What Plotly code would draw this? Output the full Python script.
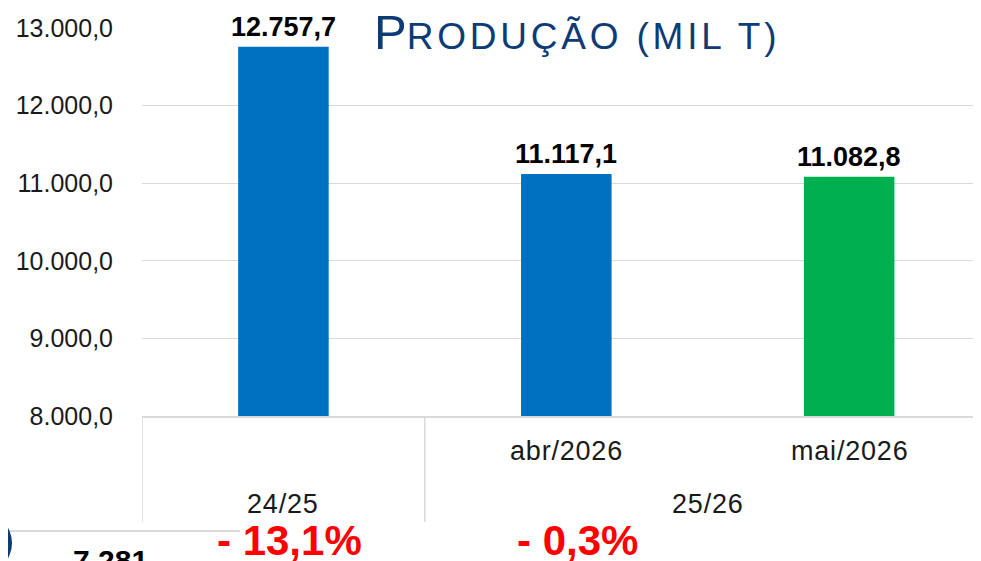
import plotly.graph_objects as go

# --- dados ---
SAFRA = ["24/25", "25/26"]
MESES = ["", "abr/2026", "mai/2026"]
PRODUCAO = [12757.7, 11117.1, 11082.8]
CORES = ["#0070C0", "#0070C0", "#00B050"]
RODAPE_VALOR = "7.281"

FONT = "Liberation Sans, Arial, sans-serif"
AZUL_TITULO = "#0D3B75"
CINZA = "#D9D9D9"
TXT = "#1a1a1a"
OFF = 8  # margem padrão do <body>
W, H = 981 - OFF, 561 - OFF
ML, MT, MB = 142 - OFF, 28 - OFF, 561 - 416
PH = H - MT - MB


def br(v, casas=1):
    s = f"{v:,.{casas}f}"
    return s.replace(",", "X").replace(".", ",").replace("X", ".")


def py(pix):
    # pixel vertical da tela -> coordenada paper
    return (416 - pix) / PH


def px(pix):
    return (pix - 142) / (W - ML)


x = list(range(len(PRODUCAO)))

fig = go.Figure()
fig.add_trace(go.Bar(x=x, y=PRODUCAO, width=0.32, marker_color=CORES,
                     marker_line_width=0, hoverinfo="skip", showlegend=False))

ann = []
# rótulos de dados
for i, v in enumerate(PRODUCAO):
    ann.append(dict(x=i, y=v, xref="x", yref="y", text=f"<b>{br(v)}</b>", showarrow=False,
                    xanchor="center", yanchor="bottom", yshift=3,
                    font=dict(size=27, color="#000000")))

cat = '<span style="letter-spacing:0.8px">%s</span>'
# eixo de categorias em dois níveis
for i, m in enumerate(MESES):
    if m:
        ann.append(dict(x=i, y=py(451), xref="x", yref="paper", text=cat % m, showarrow=False,
                        xanchor="center", yanchor="middle", font=dict(size=27, color=TXT)))
ann.append(dict(x=0, y=py(504), xref="x", yref="paper", text=cat % SAFRA[0], showarrow=False,
                xanchor="center", yanchor="middle", font=dict(size=27, color=TXT)))
ann.append(dict(x=1.5, y=py(504), xref="x", yref="paper", text=cat % SAFRA[1], showarrow=False,
                xanchor="center", yanchor="middle", font=dict(size=27, color=TXT)))

# variações
var_safra = (PRODUCAO[2] / PRODUCAO[0] - 1) * 100
var_mes = (PRODUCAO[2] / PRODUCAO[1] - 1) * 100
for xx, v in [(0.023, var_safra), (1.04, var_mes)]:
    ann.append(dict(x=xx, y=py(540), xref="x", yref="paper",
                    text=f"<b>- {br(abs(v))}%</b>", showarrow=False,
                    xanchor="center", yanchor="middle",
                    font=dict(size=42, color="#FF0000")))

ann.append(dict(x=px(110), y=py(560), xref="paper", yref="paper", text=f"<b>{RODAPE_VALOR}</b>",
                showarrow=False, xanchor="center", yanchor="middle",
                font=dict(size=30, color="#000000")))

# título
ann.append(dict(x=px(372), y=py(32), xref="paper", yref="paper", xanchor="left", yanchor="middle",
                text='P<span style="font-size:37px;letter-spacing:3.8px">RODUÇÃO (MIL T)</span>',
                showarrow=False, font=dict(size=49, color=AZUL_TITULO)))

shapes = []
for xx in [-0.5, 0.5]:
    shapes.append(dict(type="line", xref="x", yref="paper", x0=xx, x1=xx, y0=0, y1=py(522),
                       line=dict(color=CINZA, width=1.5)))
shapes.append(dict(type="line", xref="paper", yref="paper", x0=px(0), x1=px(240),
                   y0=py(531), y1=py(531), line=dict(color=CINZA, width=2)))
shapes.append(dict(type="circle", xref="paper", yref="paper", x0=px(-50), x1=px(12),
                   y0=py(512), y1=py(574), fillcolor=AZUL_TITULO, line=dict(width=0)))

fig.update_layout(
    width=W, height=H,
    margin=dict(l=ML, r=0, t=MT, b=MB),
    paper_bgcolor="white", plot_bgcolor="white",
    separators=",.",
    font=dict(family=FONT, color=TXT),
    annotations=ann, shapes=shapes,
    xaxis=dict(range=[-0.5, 2.466], showticklabels=False, showgrid=False, zeroline=False,
               showline=True, linecolor=CINZA, linewidth=1.5, fixedrange=True),
    yaxis=dict(range=[8000, 13000], dtick=1000, tickformat=",.1f", showgrid=True,
               gridcolor=CINZA, gridwidth=1, zeroline=False, showline=False,
               ticklabelstandoff=28, tickfont=dict(size=25, color=TXT), fixedrange=True),
)

fig.write_html("out.html")
